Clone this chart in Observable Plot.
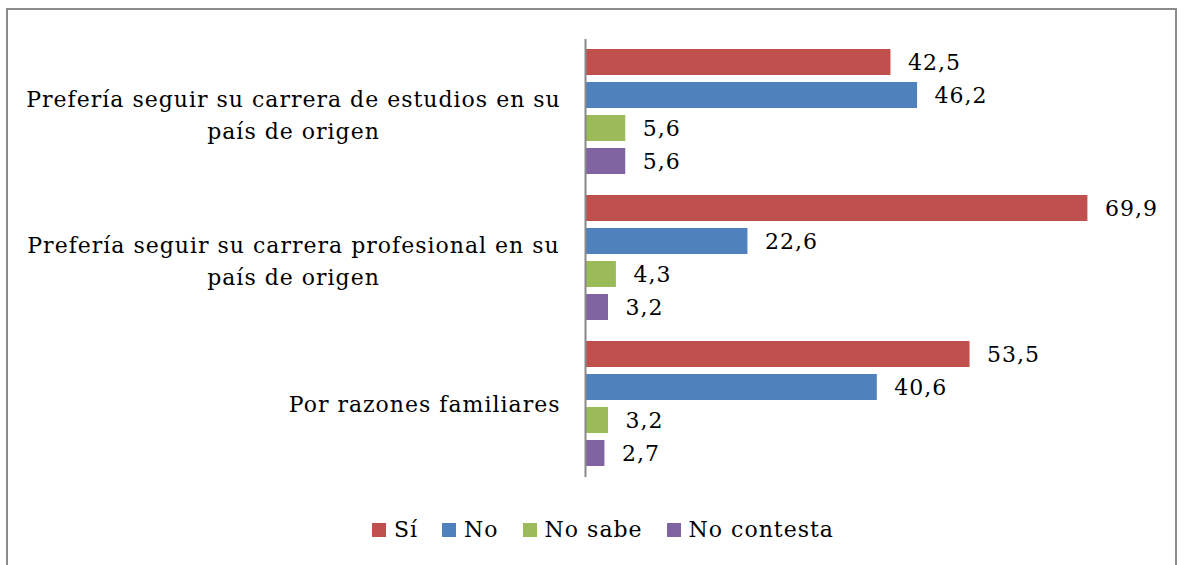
<!DOCTYPE html>
<html>
<head>
<meta charset="utf-8">
<script src="https://cdn.jsdelivr.net/npm/d3@7"></script>
<script src="https://cdn.jsdelivr.net/npm/@observablehq/plot@0.6"></script>
<style>
  html, body { margin: 0; padding: 0; background: #fff; overflow: hidden; }
  body { width: 1184px; height: 565px; position: relative; font-family: "DejaVu Serif", serif; }
  #frame { position: absolute; left: 6px; top: 8px; width: 1171px; height: 600px; border: 2px solid #8c8c8c; box-sizing: border-box; }
  #chart { position: absolute; left: 0; top: 0; }
  #chart text { letter-spacing: 1px; }
  #legend { position: absolute; left: 372px; top: 517px; display: flex; align-items: center; font-size: 22px; letter-spacing: 1px; color: #000; white-space: nowrap; }
  .item { display: flex; align-items: center; margin-right: 24px; }
  .sw { width: 14px; height: 14px; margin-right: 8px; }
</style>
</head>
<body>
<div id="frame"></div>
<div id="chart"></div>
<div id="legend"></div>
<script>
const categories = [
  "Prefería seguir su carrera de estudios en su país de origen",
  "Prefería seguir su carrera profesional en su país de origen",
  "Por razones familiares"
];
const categoryLabels = [
  "Prefería seguir su carrera de estudios en su\npaís de origen",
  "Prefería seguir su carrera profesional en su\npaís de origen",
  "Por razones familiares"
];
const series = ["Sí", "No", "No sabe", "No contesta"];
const colors = ["#C0504D", "#4F81BD", "#9BBB59", "#8064A2"];
const valuesSi = [42.5, 69.9, 53.5];
const valuesNo = [46.2, 22.6, 40.6];
const valuesNoSabe = [5.6, 4.3, 3.2];
const valuesNoContesta = [5.6, 3.2, 2.7];

const seriesValues = [valuesSi, valuesNo, valuesNoSabe, valuesNoContesta];
const rows = [];
categories.forEach((c, i) => {
  series.forEach((s, j) => rows.push({cat: c, series: s, value: seriesValues[j][i]}));
});
const labelRows = categories.map((c, i) => ({cat: c, label: categoryLabels[i]}));
const fmt = v => v.toFixed(1).replace(".", ",");

const chart = Plot.plot({
  width: 1184,
  height: 500,
  marginLeft: 585,
  marginRight: 24,
  marginTop: 39,
  marginBottom: 23,
  style: {fontFamily: "DejaVu Serif", fontSize: "22px", background: "transparent"},
  x: {domain: [0, 80], axis: null},
  y: {domain: series, paddingInner: 0.21, paddingOuter: 0.317, axis: null},
  fy: {domain: categories, padding: 0, axis: null},
  color: {domain: series, range: colors},
  marks: [
    Plot.barX(rows, {x: "value", y: "series", fy: "cat", fill: "series"}),
    Plot.text(rows, {x: "value", y: "series", fy: "cat", text: d => fmt(d.value), textAnchor: "start", dx: 17, fill: "#000", fontSize: 22}),
    Plot.text(labelRows.filter(d => d.label.includes("\n")), {fy: "cat", text: "label", frameAnchor: "left", textAnchor: "middle", dx: -292, lineHeight: 1.45, fill: "#000", fontSize: 22}),
    Plot.text(labelRows.filter(d => !d.label.includes("\n")), {fy: "cat", text: "label", frameAnchor: "left", textAnchor: "end", dx: -25, fill: "#000", fontSize: 22}),
    Plot.ruleX([0], {stroke: "#888", strokeWidth: 2})
  ]
});
document.getElementById("chart").appendChild(chart);

const legend = document.getElementById("legend");
series.forEach((s, j) => {
  const item = document.createElement("div");
  item.className = "item";
  const sw = document.createElement("div");
  sw.className = "sw";
  sw.style.background = colors[j];
  const t = document.createElement("span");
  t.textContent = s;
  item.appendChild(sw);
  item.appendChild(t);
  legend.appendChild(item);
});
</script>
</body>
</html>
